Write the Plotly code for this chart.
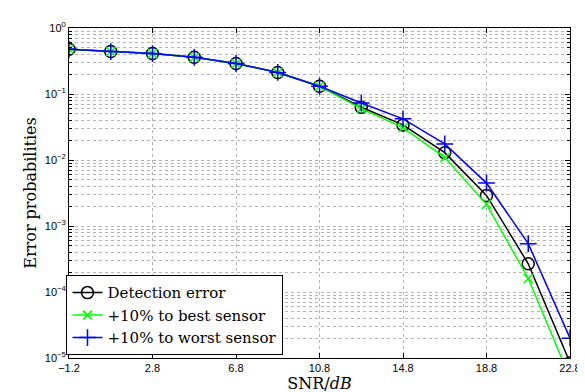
import plotly.graph_objects as go

snr = [-1.2, 0.8, 2.8, 4.8, 6.8, 8.8, 10.8, 12.8, 14.8, 16.8, 18.8, 20.8, 22.8]
detection_error = [0.476, 0.44, 0.41, 0.36, 0.29, 0.212, 0.131, 0.063, 0.034, 0.0129, 0.0029, 2.68e-4, 8.5e-6]
best_sensor = [0.476, 0.44, 0.41, 0.36, 0.29, 0.212, 0.131, 0.060, 0.031, 0.0109, 0.00213, 1.6e-4, 5.0e-6]
worst_sensor = [0.476, 0.44, 0.41, 0.36, 0.29, 0.212, 0.131, 0.073, 0.042, 0.0175, 0.00447, 5.4e-4, 2.0e-5]

x_ticks = [-1.2, 2.8, 6.8, 10.8, 14.8, 18.8, 22.8]
x_ticktext = ["\u22121.2", "2.8", "6.8", "10.8", "14.8", "18.8", "22.8"]
y_ticks = [1e-5, 1e-4, 1e-3, 1e-2, 1e-1, 1]
y_ticktext = ["10<sup>\u22125</sup>", "10<sup>\u22124</sup>", "10<sup>\u22123</sup>",
              "10<sup>\u22122</sup>", "10<sup>\u22121</sup>", "10<sup>0</sup>"]
y_minor = [m * 10.0 ** e for e in range(-5, 0) for m in range(2, 10)]

serif = "DejaVu Serif"

fig = go.Figure()
fig.add_trace(go.Scatter(x=snr, y=detection_error, mode="lines+markers", name="Detection error",
                         line=dict(color="black", width=1.5),
                         marker=dict(symbol="circle-open", size=12, color="black", line=dict(width=1.5))))
fig.add_trace(go.Scatter(x=snr, y=best_sensor, mode="lines+markers", name="+10% to best sensor",
                         line=dict(color="#00ff00", width=1.5),
                         marker=dict(symbol="x-thin-open", size=9, color="#00ff00", line=dict(width=1.5, color="#00ff00"))))
fig.add_trace(go.Scatter(x=snr, y=worst_sensor, mode="lines+markers", name="+10% to worst sensor",
                         line=dict(color="#0000ff", width=1.5),
                         marker=dict(symbol="cross-thin-open", size=12, color="#0000ff", line=dict(width=1.5, color="#0000ff"))))

grid_color = "#b4b4b4"
fig.update_layout(
    width=585, height=392,
    margin=dict(l=61, r=12, t=13, b=42),
    paper_bgcolor="white", plot_bgcolor="white",
    font=dict(family="Liberation Sans", size=11, color="black"),
    legend=dict(x=-0.005, y=0.008, xanchor="left", yanchor="bottom",
                bgcolor="white", bordercolor="black", borderwidth=1,
                font=dict(family=serif, size=15, color="black"),
                tracegroupgap=0, itemwidth=30),
    showlegend=True,
)
fig.update_xaxes(
    range=[-1.2, 22.8], tickmode="array", tickvals=x_ticks, ticktext=x_ticktext,
    showline=True, linecolor="black", linewidth=1, mirror="ticks",
    ticks="inside", ticklen=5, tickcolor="black",
    showgrid=True, gridcolor=grid_color, griddash="dot", gridwidth=1, zeroline=False,
    title=dict(text="SNR/<i>dB</i>", font=dict(family=serif, size=16), standoff=0),
)
fig.update_yaxes(
    type="log", range=[-5, 0], tickmode="array", tickvals=y_ticks, ticktext=y_ticktext,
    showline=True, linecolor="black", linewidth=1, mirror="ticks",
    ticks="inside", ticklen=5, tickcolor="black",
    showgrid=True, gridcolor=grid_color, griddash="dot", gridwidth=1, zeroline=False,
    minor=dict(tickmode="array", tickvals=y_minor, ticks="inside", ticklen=3, tickcolor="black",
               showgrid=True, gridcolor=grid_color, griddash="dot", gridwidth=1),
    title=dict(text="Error probabilities", font=dict(family=serif, size=16), standoff=4),
)

fig.write_html("out.html")
